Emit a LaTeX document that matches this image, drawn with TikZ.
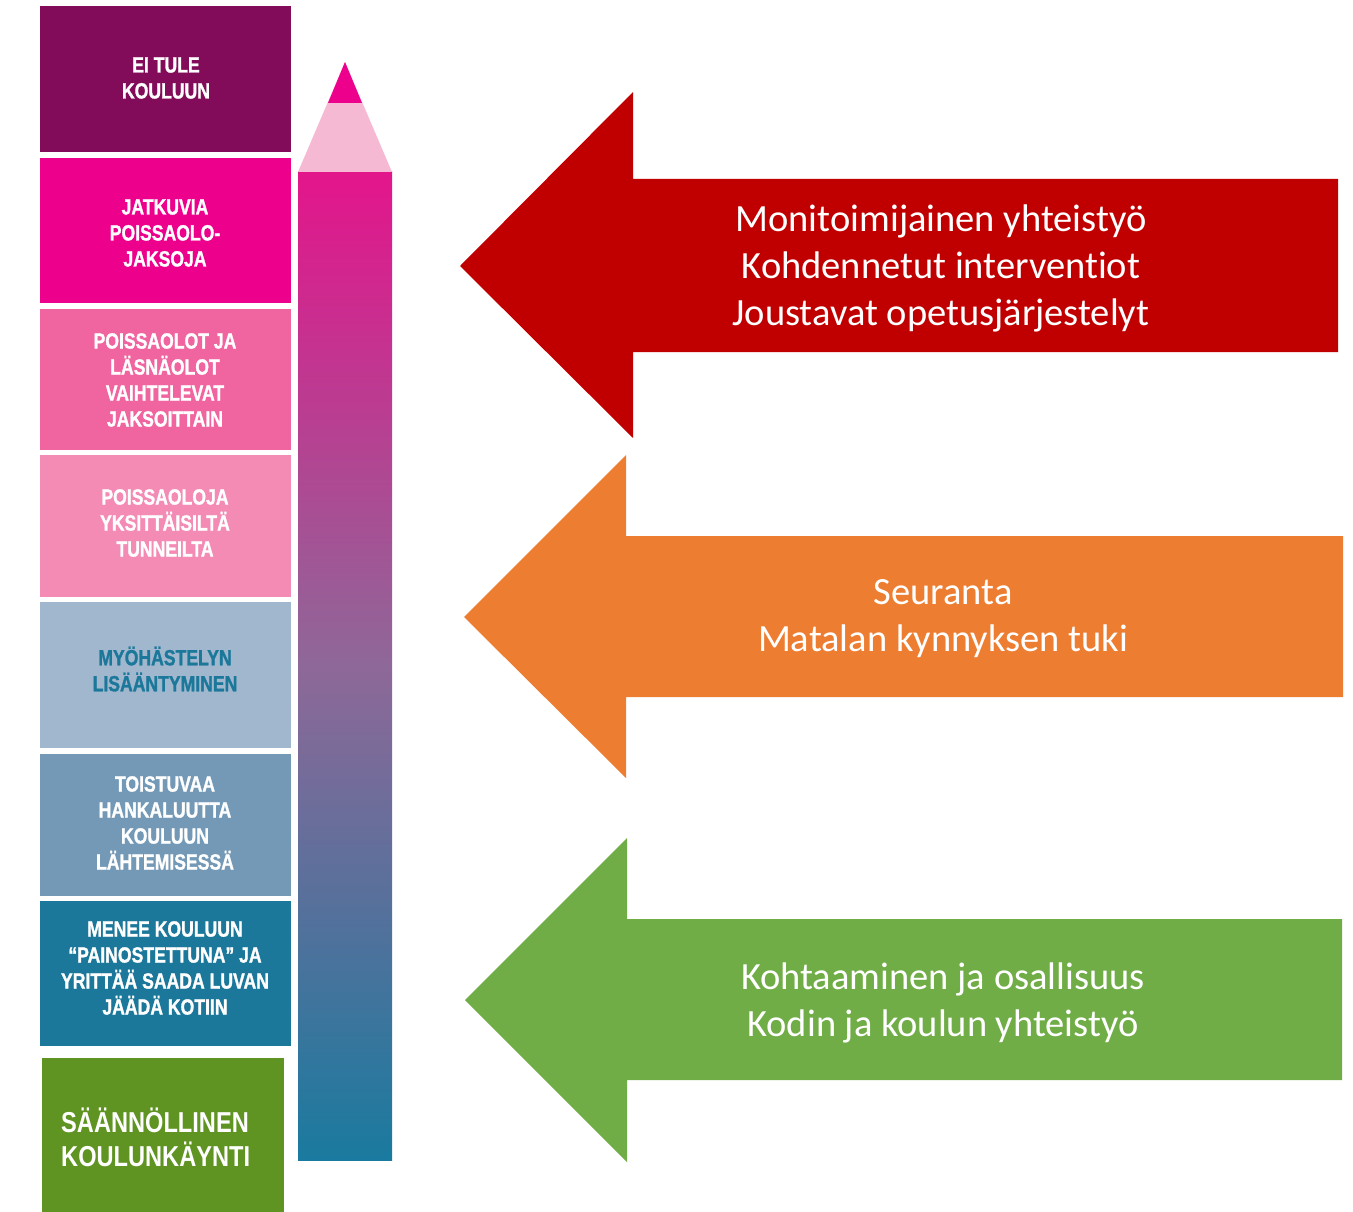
\documentclass[tikz,border=0pt]{standalone}
\usepackage{fontspec}
\setmainfont[Ligatures=NoCommon]{Carlito}
\newfontfamily\cond[FakeStretch=0.8,FakeBold=1.3]{Liberation Sans}
\newfontfamily\condb[FakeStretch=0.82]{Liberation Sans}
\definecolor{cA}{HTML}{820C5A}
\definecolor{cB}{HTML}{EC008C}
\definecolor{cC}{HTML}{F0649F}
\definecolor{cD}{HTML}{F48BB5}
\definecolor{cE}{HTML}{A1B7CD}
\definecolor{cF}{HTML}{7399B6}
\definecolor{cG}{HTML}{1B789A}
\definecolor{cH}{HTML}{5F9422}
\definecolor{tipdark}{HTML}{EC008C}
\definecolor{tiplight}{HTML}{F5B9D3}
\definecolor{pentop}{HTML}{E3158B}
\definecolor{penmid}{HTML}{8E6898}
\definecolor{penbot}{HTML}{1A7A9F}
\definecolor{ared}{HTML}{C00000}
\definecolor{aorange}{HTML}{ED7D31}
\definecolor{agreen}{HTML}{70AD47}
\tikzset{
  lvl/.style={inner sep=0pt, text=white, align=center, font=\cond\bfseries\fontsize{22}{26}\selectfont},
  arrtext/.style={inner sep=0pt, text=white, align=center, font=\fontsize{38.5}{47}\selectfont},
}
\begin{document}
\begin{tikzpicture}[x=1pt,y=-1pt]
\useasboundingbox (0,0) rectangle (1353,1212);
% level boxes
\fill[cA] (40,6) rectangle (291,152);
\fill[cB] (40,158) rectangle (291,303);
\fill[cC] (40,309) rectangle (291,450);
\fill[cD] (40,455) rectangle (291,597);
\fill[cE] (40,602) rectangle (291,748);
\fill[cF] (40,754) rectangle (291,896);
\fill[cG] (40,901) rectangle (291,1046);
\fill[cH] (42,1058) rectangle (284,1212);
\node[lvl] (t1) at (166,78) {EI TULE\\KOULUUN};
\node[lvl] (t2) at (165,233) {JATKUVIA\\POISSAOLO-\\JAKSOJA};
\node[lvl] (t3) at (165,380) {POISSAOLOT JA\\LÄSNÄOLOT\\VAIHTELEVAT\\JAKSOITTAIN};
\node[lvl] (t4) at (165,523) {POISSAOLOJA\\YKSITTÄISILTÄ\\TUNNEILTA};
\node[lvl, text=cG] (t5) at (165,669) {MYÖHÄSTELYN\\LISÄÄNTYMINEN};
\node[lvl] (t6) at (165,823) {TOISTUVAA\\HANKALUUTTA\\KOULUUN\\LÄHTEMISESSÄ};
\node[lvl] (t7) at (165,968) {MENEE KOULUUN\\“PAINOSTETTUNA” JA\\YRITTÄÄ SAADA LUVAN\\JÄÄDÄ KOTIIN};
\node[inner sep=0pt, anchor=west, text=white, align=left, font=\condb\bfseries\fontsize{28.8}{34}\selectfont] (t8) at (61,1137) {SÄÄNNÖLLINEN\\KOULUNKÄYNTI};
% pencil
\shade[top color=pentop, bottom color=penbot, middle color=penmid] (298,172) rectangle (392,1160);
\fill[tiplight] (298,172) -- (345,62) -- (392,172) -- cycle;
\fill[tipdark] (328,103) -- (345,62) -- (362,103) -- cycle;
% arrows
\fill[ared] (460,266) -- (633,92) -- (633,179) -- (1338,179) -- (1338,352) -- (633,352) -- (633,438) -- cycle;
\fill[aorange] (464,617) -- (626,455) -- (626,536) -- (1343,536) -- (1343,697) -- (626,697) -- (626,778) -- cycle;
\fill[agreen] (465,1000) -- (627,838) -- (627,919) -- (1342,919) -- (1342,1080) -- (627,1080) -- (627,1162) -- cycle;
\node[arrtext] (r) at (941,268) {Monitoimijainen yhteistyö\\Kohdennetut interventiot\\Joustavat opetusjärjestelyt};
\node[arrtext] (o) at (943,619) {Seuranta\\Matalan kynnyksen tuki};
\node[arrtext] (g) at (943,1003) {Kohtaaminen ja osallisuus\\Kodin ja koulun yhteistyö};
\end{tikzpicture}
\end{document}
